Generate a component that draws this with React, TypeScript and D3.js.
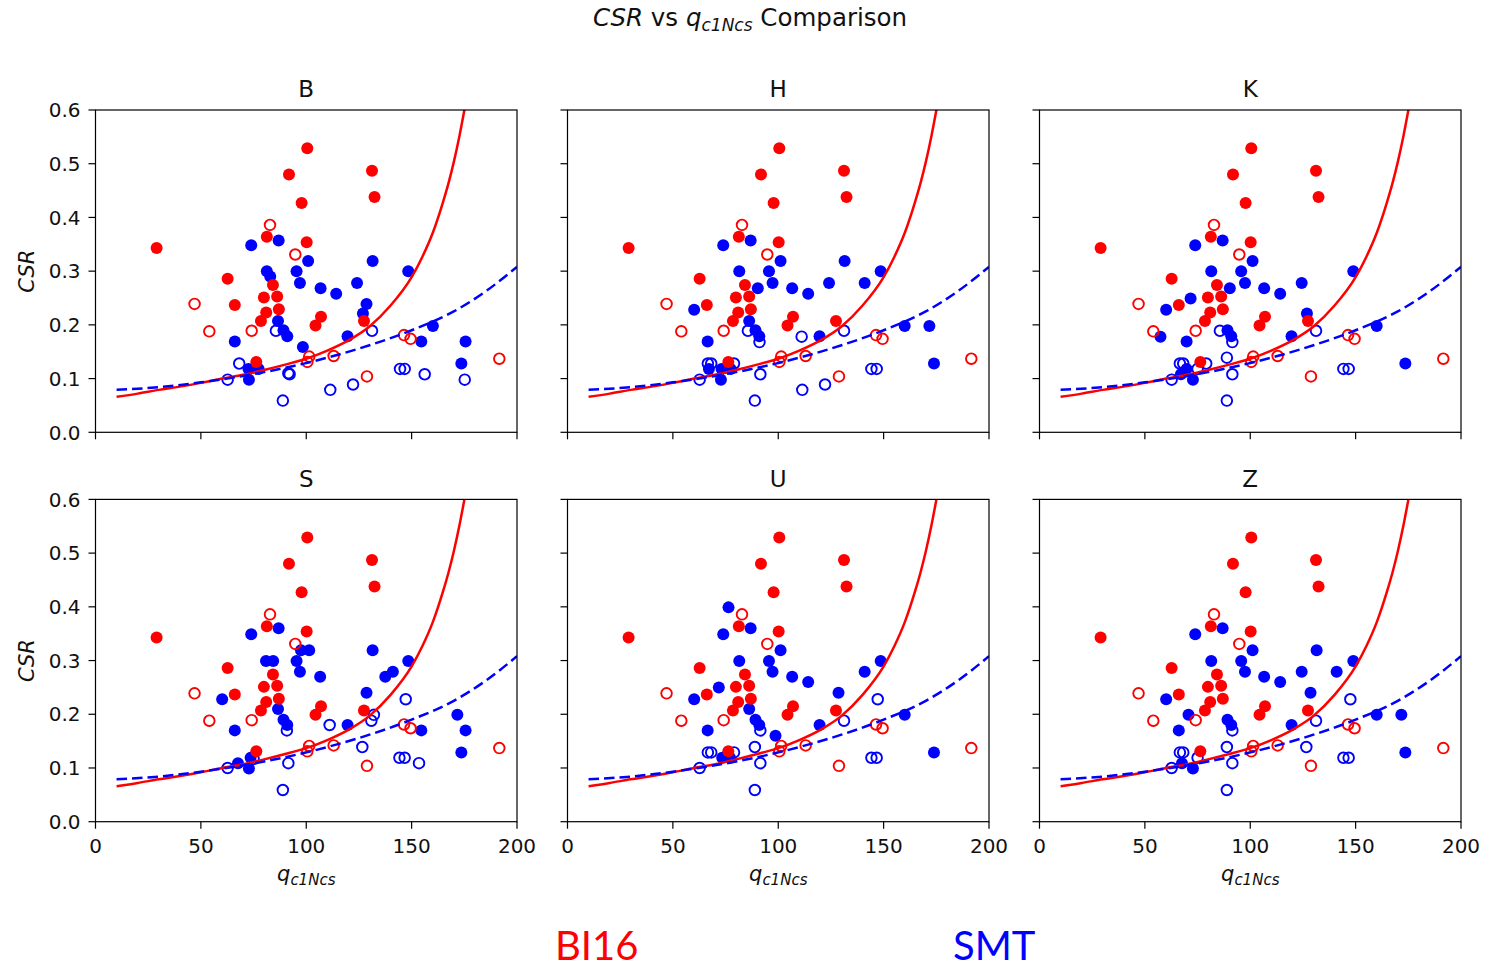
import * as d3 from "d3"

type Pt = [number, number]

// BI16 points (same on every panel)
const BI16_LIQ: Pt[] = [
  [29, 0.343], [100.5, 0.529], [91.8, 0.48], [131.2, 0.487], [132.4, 0.438],
  [97.8, 0.427], [81.3, 0.364], [100.2, 0.354], [62.7, 0.286], [84.2, 0.274],
  [66.1, 0.237], [79.9, 0.251], [86.2, 0.253], [87.0, 0.229], [81.0, 0.223],
  [78.5, 0.207], [107.0, 0.215], [104.4, 0.199], [127.4, 0.207], [76.3, 0.131],
]
const BI16_NONLIQ: Pt[] = [
  [82.8, 0.386], [94.8, 0.331], [47.0, 0.239], [54.0, 0.188], [74.1, 0.189],
  [146.4, 0.181], [149.5, 0.174], [101.4, 0.141], [100.5, 0.131], [113.0, 0.142],
  [128.8, 0.104], [191.6, 0.137],
]

// SMT points, per site
const SMT_B_LIQ: Pt[] = [
  [73.9, 0.348], [86.9, 0.357], [100.9, 0.319], [131.5, 0.319], [81.3, 0.3],
  [82.9, 0.29], [95.4, 0.3], [97.0, 0.278], [106.8, 0.268], [114.2, 0.258],
  [124.1, 0.278], [148.4, 0.3], [128.6, 0.239], [126.9, 0.221], [86.6, 0.207],
  [89.2, 0.19], [91.0, 0.179], [66.1, 0.169], [98.4, 0.159], [119.6, 0.179],
  [160.1, 0.198], [154.6, 0.169], [175.6, 0.169], [173.6, 0.128], [72.6, 0.118],
  [77.4, 0.118], [72.8, 0.098],
]
const SMT_B_NONLIQ: Pt[] = [
  [85.6, 0.189], [131.2, 0.189], [68.2, 0.128], [62.7, 0.098], [91.5, 0.11],
  [92.1, 0.108], [88.9, 0.059], [111.4, 0.079], [122.2, 0.089], [144.5, 0.118],
  [146.7, 0.118], [156.2, 0.108], [175.2, 0.098],
]

const SMT_H_LIQ: Pt[] = [
  [73.9, 0.348], [86.9, 0.357], [101.1, 0.319], [131.5, 0.319], [81.5, 0.3],
  [95.6, 0.3], [97.3, 0.278], [90.3, 0.268], [106.6, 0.268], [114.2, 0.258],
  [124.1, 0.278], [141.0, 0.278], [148.6, 0.3], [60.1, 0.228], [86.2, 0.207],
  [89.2, 0.19], [91.0, 0.179], [66.5, 0.169], [119.6, 0.179], [160.0, 0.198],
  [171.7, 0.198], [173.9, 0.128], [73.1, 0.118], [77.4, 0.118], [72.8, 0.098],
  [67.1, 0.118],
]
const SMT_H_NONLIQ: Pt[] = [
  [85.6, 0.189], [91.1, 0.168], [111.1, 0.178], [131.2, 0.189], [66.6, 0.128],
  [68.2, 0.128], [79.0, 0.128], [62.7, 0.098], [91.5, 0.108], [88.9, 0.059],
  [111.4, 0.079], [122.2, 0.089], [144.2, 0.118], [146.7, 0.118],
]

const SMT_K_LIQ: Pt[] = [
  [73.9, 0.348], [86.9, 0.357], [101.1, 0.319], [81.5, 0.3], [95.7, 0.3],
  [97.5, 0.278], [90.3, 0.268], [106.6, 0.268], [114.2, 0.258], [124.4, 0.278],
  [148.9, 0.3], [71.7, 0.249], [60.1, 0.228], [126.9, 0.221], [89.2, 0.19],
  [91.0, 0.179], [57.4, 0.178], [69.8, 0.169], [119.6, 0.179], [160.0, 0.198],
  [173.6, 0.128], [67.1, 0.108], [72.8, 0.098], [69.8, 0.118],
]
const SMT_K_NONLIQ: Pt[] = [
  [85.6, 0.189], [91.5, 0.168], [131.2, 0.189], [66.6, 0.128], [68.2, 0.128],
  [75.0, 0.118], [79.1, 0.128], [88.9, 0.139], [91.5, 0.108], [62.7, 0.098],
  [88.9, 0.059], [144.2, 0.118], [146.7, 0.118],
]

const SMT_S_LIQ: Pt[] = [
  [73.9, 0.349], [86.9, 0.36], [80.9, 0.299], [84.3, 0.299], [97.5, 0.319],
  [101.4, 0.319], [95.4, 0.299], [97.0, 0.279], [106.6, 0.27], [131.5, 0.319],
  [137.5, 0.27], [141.1, 0.279], [148.4, 0.299], [128.6, 0.24], [60.1, 0.228],
  [86.6, 0.21], [89.2, 0.19], [91.0, 0.18], [66.1, 0.17], [119.6, 0.18],
  [154.6, 0.17], [171.7, 0.199], [175.6, 0.17], [173.6, 0.129], [67.6, 0.109],
  [73.6, 0.119], [72.8, 0.099],
]
const SMT_S_NONLIQ: Pt[] = [
  [90.8, 0.17], [111.1, 0.18], [130.9, 0.188], [132.1, 0.199], [147.2, 0.228],
  [126.6, 0.139], [91.5, 0.109], [62.7, 0.1], [88.9, 0.059], [144.2, 0.119],
  [146.7, 0.119], [153.5, 0.109], [75.0, 0.117],
]

const SMT_U_LIQ: Pt[] = [
  [76.4, 0.399], [73.9, 0.349], [86.9, 0.36], [101.1, 0.319], [81.5, 0.299],
  [95.6, 0.299], [97.3, 0.279], [106.6, 0.27], [114.2, 0.26], [141.0, 0.279],
  [148.6, 0.299], [71.8, 0.25], [60.1, 0.228], [128.6, 0.24], [86.2, 0.21],
  [89.2, 0.19], [91.0, 0.18], [66.5, 0.17], [98.7, 0.16], [119.6, 0.18],
  [160.0, 0.199], [173.9, 0.129], [73.4, 0.119], [77.1, 0.119],
]
const SMT_U_NONLIQ: Pt[] = [
  [91.5, 0.17], [131.2, 0.188], [147.2, 0.228], [66.6, 0.129], [68.2, 0.129],
  [79.0, 0.129], [88.9, 0.139], [91.5, 0.109], [62.7, 0.1], [88.9, 0.059],
  [144.2, 0.119], [146.7, 0.119],
]

const SMT_Z_LIQ: Pt[] = [
  [73.9, 0.349], [86.9, 0.36], [101.1, 0.319], [131.5, 0.319], [81.5, 0.299],
  [95.7, 0.299], [97.5, 0.279], [106.6, 0.27], [114.2, 0.26], [124.4, 0.279],
  [141.0, 0.279], [148.9, 0.299], [60.1, 0.228], [128.6, 0.24], [70.7, 0.199],
  [89.2, 0.19], [91.0, 0.18], [66.1, 0.17], [119.6, 0.18], [160.0, 0.199],
  [171.7, 0.199], [173.6, 0.129], [67.6, 0.109], [72.8, 0.099],
]
const SMT_Z_NONLIQ: Pt[] = [
  [91.5, 0.17], [131.2, 0.188], [147.5, 0.228], [126.6, 0.139], [66.6, 0.129],
  [68.2, 0.129], [75.0, 0.119], [88.9, 0.139], [91.5, 0.109], [62.7, 0.1],
  [88.9, 0.059], [144.2, 0.119], [146.7, 0.119],
]

// trigger curves
const BI16_CURVE_Q = [10, 20, 30, 40, 50, 60, 70, 80, 90, 100, 110, 120, 130, 140, 150, 155, 160, 165, 167.5, 170, 172.5, 175, 176]
const BI16_CURVE_CSR = [0.066, 0.072, 0.079, 0.085, 0.092, 0.1, 0.107, 0.116, 0.126, 0.137, 0.152, 0.171, 0.197, 0.236, 0.289, 0.326, 0.371, 0.43, 0.464, 0.503, 0.548, 0.599, 0.62]
const SMT_CURVE_Q = [10, 30, 50, 70, 90, 110, 130, 150, 170, 185, 200]
const SMT_CURVE_CSR = [0.079, 0.084, 0.093, 0.105, 0.12, 0.139, 0.162, 0.19, 0.225, 0.262, 0.308]

const SITES = ["B", "H", "K", "S", "U", "Z"]
const SMT_LIQ = [SMT_B_LIQ, SMT_H_LIQ, SMT_K_LIQ, SMT_S_LIQ, SMT_U_LIQ, SMT_Z_LIQ]
const SMT_NONLIQ = [SMT_B_NONLIQ, SMT_H_NONLIQ, SMT_K_NONLIQ, SMT_S_NONLIQ, SMT_U_NONLIQ, SMT_Z_NONLIQ]

const X_TICKS = [0, 50, 100, 150, 200]
const Y_TICKS = [0, 0.1, 0.2, 0.3, 0.4, 0.5, 0.6]

const RED = "#ff0000"
const BLUE = "#0000ff"
const FONT = "DejaVu Sans, sans-serif"

const W = 1504
const H = 970
const COL_X = [95.5, 567.5, 1039.5]
const ROW_Y = [110, 499.4]
const PW = 421.5
const PH = 322.3

function Panel({ idx }: { idx: number }) {
  const col = idx % 3
  const row = Math.floor(idx / 3)
  const left = COL_X[col]
  const top = ROW_Y[row]
  const x = d3.scaleLinear().domain([0, 200]).range([0, PW])
  const y = d3.scaleLinear().domain([0, 0.6]).range([PH, 0])

  const line = d3
    .line<[number, number]>()
    .x((d) => x(d[0]))
    .y((d) => y(d[1]))
    .curve(d3.curveMonotoneX)

  const bi16Path = line(BI16_CURVE_Q.map((q, i) => [q, BI16_CURVE_CSR[i]]))!
  const smtPath = line(SMT_CURVE_Q.map((q, i) => [q, SMT_CURVE_CSR[i]]))!
  const clipId = `clip-${idx}`

  return (
    <g transform={`translate(${left},${top})`}>
      <defs>
        <clipPath id={clipId}>
          <rect x={0} y={0} width={PW} height={PH} />
        </clipPath>
      </defs>
      <g clipPath={`url(#${clipId})`}>
        {SMT_LIQ[idx].map((d, i) => (
          <circle key={"bl" + i} cx={x(d[0])} cy={y(d[1])} r={6} fill={BLUE} />
        ))}
        {SMT_NONLIQ[idx].map((d, i) => (
          <circle key={"bn" + i} cx={x(d[0])} cy={y(d[1])} r={5.3} fill="none" stroke={BLUE} strokeWidth={1.9} />
        ))}
        {BI16_LIQ.map((d, i) => (
          <circle key={"rl" + i} cx={x(d[0])} cy={y(d[1])} r={6} fill={RED} />
        ))}
        {BI16_NONLIQ.map((d, i) => (
          <circle key={"rn" + i} cx={x(d[0])} cy={y(d[1])} r={5.3} fill="none" stroke={RED} strokeWidth={1.9} />
        ))}
        <path d={bi16Path} fill="none" stroke={RED} strokeWidth={2.5} />
        <path d={smtPath} fill="none" stroke={BLUE} strokeWidth={2.5} strokeDasharray="10.5,5" />
      </g>
      <rect x={0} y={0} width={PW} height={PH} fill="none" stroke="#000" strokeWidth={1.2} />
      {X_TICKS.map((t) => (
        <g key={"xt" + t} transform={`translate(${x(t)},${PH})`}>
          <line y1={0} y2={7} stroke="#000" strokeWidth={1.2} />
          {row === 1 && (
            <text y={31.5} textAnchor="middle" fontSize={20} fontFamily={FONT} fill="#111">
              {t}
            </text>
          )}
        </g>
      ))}
      {Y_TICKS.map((t) => (
        <g key={"yt" + t} transform={`translate(0,${y(t)})`}>
          <line x1={0} x2={-7} stroke="#000" strokeWidth={1.2} />
          {col === 0 && (
            <text x={-15} dy="0.36em" textAnchor="end" fontSize={20} fontFamily={FONT} fill="#111">
              {d3.format(".1f")(t)}
            </text>
          )}
        </g>
      ))}
      <text x={PW / 2} y={-12.7} textAnchor="middle" fontSize={23} fontFamily={FONT} fill="#111">
        {SITES[idx]}
      </text>
      {col === 0 && (
        <text
          transform={`translate(${-62},${PH / 2}) rotate(-90)`}
          textAnchor="middle"
          fontSize={21}
          fontStyle="italic"
          fontFamily={FONT}
          fill="#111"
        >
          CSR
        </text>
      )}
      {row === 1 && (
        <text x={PW / 2} y={PH + 59} textAnchor="middle" fontSize={21} fontFamily={FONT} fill="#111">
          <tspan fontStyle="italic">q</tspan>
          <tspan fontStyle="italic" fontSize={15} dy={4}>c1Ncs</tspan>
        </text>
      )}
    </g>
  )
}

export default function App() {
  return (
    <svg
      width={W}
      height={H}
      style={{ position: "absolute", left: 0, top: 0, background: "#fff" }}
    >
      <rect width={W} height={H} fill="#fff" />
      <text x={750} y={26} textAnchor="middle" fontSize={24.5} fontFamily={FONT} fill="#111">
        <tspan fontStyle="italic">CSR</tspan>
        <tspan>{" vs "}</tspan>
        <tspan fontStyle="italic">q</tspan>
        <tspan fontStyle="italic" fontSize={17} dy={5}>c1Ncs</tspan>
        <tspan dy={-5}>{" Comparison"}</tspan>
      </text>
      {SITES.map((s, i) => (
        <Panel key={s} idx={i} />
      ))}
      <text x={555} y={960} fontSize={40} fontFamily="Lato, sans-serif" fill={RED}>
        BI16
      </text>
      <text x={953} y={960} fontSize={40} fontFamily="Lato, sans-serif" fill={BLUE}>
        SMT
      </text>
    </svg>
  )
}
